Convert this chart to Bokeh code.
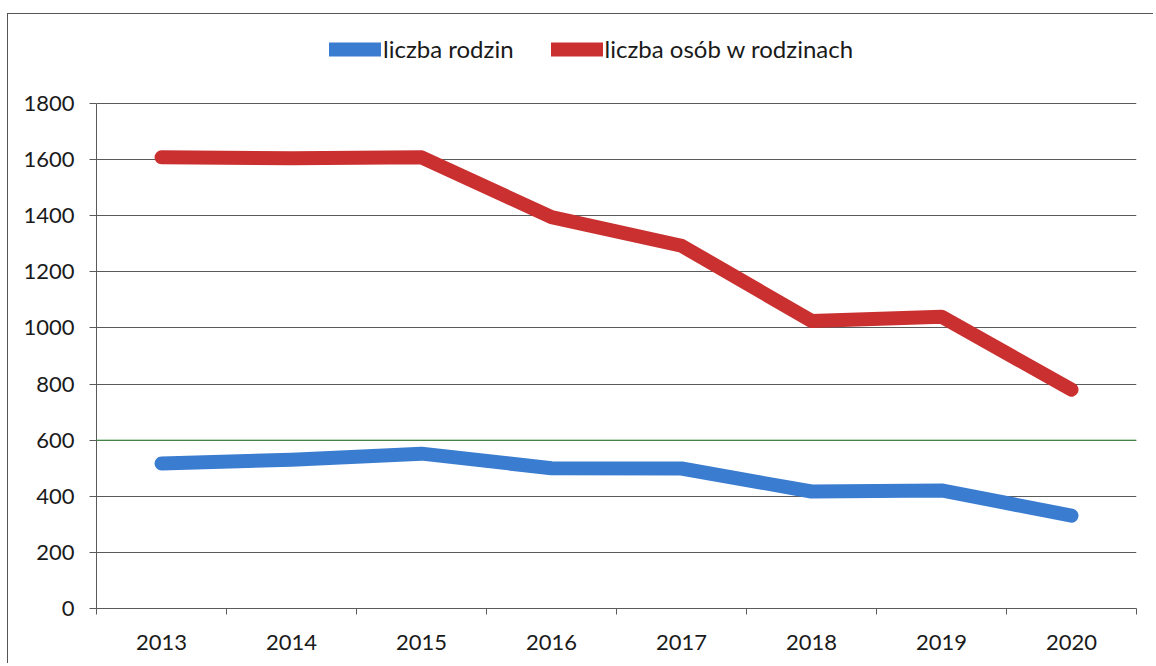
from bokeh.plotting import figure
from bokeh.models import (Range1d, FixedTicker, Legend, LegendItem, Span,
                          CustomJSTickFormatter)
from bokeh.embed import file_html
from bokeh.resources import INLINE

# ---- data ----
years = [2013, 2014, 2015, 2016, 2017, 2018, 2019, 2020]
liczba_rodzin = [517, 530, 552, 500, 499, 417, 421, 331]
liczba_osob = [1608, 1605, 1608, 1395, 1293, 1025, 1040, 780]
series_names = ["liczba rodzin", "liczba osób w rodzinach"]
y_ticks = [0, 200, 400, 600, 800, 1000, 1200, 1400, 1600, 1800]
highlight_level = [600]

FONT = "Lato"
BLUE = "#3a7ccf"
RED = "#c9302f"
GRID = "#5a5a5a"

# layout (pixels)
W, H = 1146, 650
MB_L, MB_R, MB_T, MB_B = 88, 18, 10, 56
AXIS_PX = 505          # pixel height of the 0..1800 span
frame_h = H - MB_T - MB_B
y_top = y_ticks[-1] * frame_h / AXIS_PX   # extra room above for the legend

p = figure(width=W, height=H, output_backend="svg", toolbar_location=None,
           x_range=Range1d(years[0] - 0.5, years[-1] + 0.5),
           y_range=Range1d(y_ticks[0], y_top),
           min_border_left=MB_L, min_border_right=MB_R,
           min_border_top=MB_T, min_border_bottom=MB_B,
           margin=(13, 0, 0, 7),
           styles={"border-top": "1px solid #555",
                   "border-left": "1px solid #555"})
p.outline_line_color = None
p.background_fill_color = "white"
p.border_fill_color = "white"

# x axis: labels at category centres, ticks at category boundaries
bounds = [y - 0.5 for y in years] + [years[-1] + 0.5]
p.xaxis.ticker = FixedTicker(ticks=years, minor_ticks=bounds)
p.xaxis.formatter = CustomJSTickFormatter(code="return String(Math.round(tick));")
p.xaxis.major_tick_line_color = None
p.xaxis.major_tick_out = 0
p.xaxis.major_tick_in = 0
p.xaxis.minor_tick_line_color = GRID
p.xaxis.minor_tick_out = 6
p.xaxis.minor_tick_in = 0
p.xaxis.axis_line_color = GRID
p.xaxis.major_label_standoff = 20
p.xgrid.grid_line_color = None

p.yaxis.ticker = FixedTicker(ticks=y_ticks)
p.yaxis.bounds = (y_ticks[0], y_ticks[-1])
p.yaxis.minor_tick_line_color = None
p.yaxis.major_tick_out = 7
p.yaxis.major_tick_in = 0
p.yaxis.major_tick_line_color = GRID
p.yaxis.axis_line_color = GRID
p.yaxis.major_label_standoff = 15
p.ygrid.ticker = FixedTicker(ticks=y_ticks)
p.ygrid.grid_line_color = GRID
p.ygrid.grid_line_width = 1

for ax in (p.xaxis, p.yaxis):
    ax.major_label_text_font = FONT
    ax.major_label_text_font_size = "22px"
    ax.major_label_text_color = "#1a1a1a"

for lvl in highlight_level:
    p.add_layout(Span(location=lvl, dimension="width", line_color="#3f9a3f",
                      line_width=1))

r1 = p.line(years, liczba_rodzin, line_color=BLUE, line_width=14,
            line_cap="round", line_join="round")
r2 = p.line(years, liczba_osob, line_color=RED, line_width=14,
            line_cap="round", line_join="round")

legend = Legend(items=[LegendItem(label=series_names[0], renderers=[r1]),
                       LegendItem(label=series_names[1], renderers=[r2])],
                orientation="horizontal", location=(233, 545),
                glyph_width=52, glyph_height=22, label_standoff=2, spacing=37,
                padding=0, margin=0, border_line_color=None,
                background_fill_alpha=0,
                label_text_font=FONT, label_text_font_size="24px",
                label_text_color="#1a1a1a")
p.add_layout(legend, "center")

open("out.html", "w").write(file_html(p, INLINE))
